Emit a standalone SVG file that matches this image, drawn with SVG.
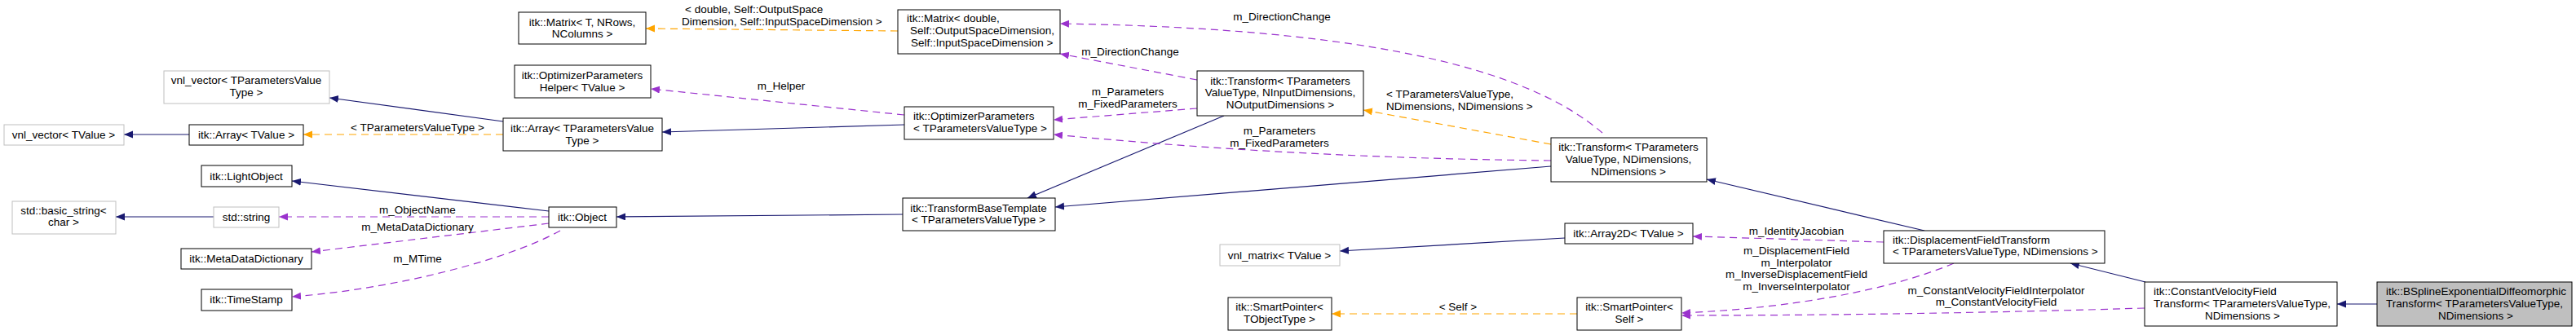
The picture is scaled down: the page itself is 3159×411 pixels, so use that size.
<svg xmlns="http://www.w3.org/2000/svg" width="3159" height="411" viewBox="0 0 3159 411">
<style>
text{font-family:"Liberation Sans",Arial,sans-serif;font-size:13.5px;fill:#000}
.c{text-anchor:middle}
.s{text-anchor:start}
.n rect{fill:#fff;stroke:#000;stroke-width:1}
.g rect{stroke:#bfbfbf}
.e path{fill:none;stroke-width:1.2}
.nv{stroke:#191970;marker-end:url(#an)}
.pu{stroke:#9a32cd;stroke-dasharray:9,6;marker-end:url(#ap)}
.or{stroke:#ffa500;stroke-dasharray:9,6;marker-end:url(#ao)}
</style>
<defs>
<marker id="an" markerUnits="userSpaceOnUse" markerWidth="12" markerHeight="10" refX="11" refY="4.5" orient="auto"><path d="M0,0L11,4.5L0,9z" fill="#191970"/></marker>
<marker id="ap" markerUnits="userSpaceOnUse" markerWidth="12" markerHeight="10" refX="11" refY="4.5" orient="auto"><path d="M0,0L11,4.5L0,9z" fill="#9a32cd"/></marker>
<marker id="ao" markerUnits="userSpaceOnUse" markerWidth="12" markerHeight="10" refX="11" refY="4.5" orient="auto"><path d="M0,0L11,4.5L0,9z" fill="#ffa500"/></marker>
</defs>
<rect width="3159" height="411" fill="#fff"/>
<g id="edges" class="e">
<path class="nv" d="M232,165L152,165"/>
<path class="nv" d="M617,149L404,120"/>
<path class="or" d="M617,165L372,165"/>
<path class="nv" d="M673,259L358,222"/>
<path class="nv" d="M262,266L142,266"/>
<path class="pu" d="M673,266L342,266"/>
<path class="pu" d="M673,274L382,309"/>
<path class="pu" d="M687,283C620,320 480,355 358,364"/>
<path class="nv" d="M1107,263L756,266"/>
<path class="nv" d="M1109,153L812,162"/>
<path class="pu" d="M1109,141L798,109"/>
<path class="or" d="M1101,38L792,35"/>
<path class="pu" d="M1468,98L1300,66"/>
<path class="pu" d="M1468,133L1292,147"/>
<path class="nv" d="M1501,142L1260,243"/>
<path class="pu" d="M1965,163C1880,90 1700,35 1300,29"/>
<path class="pu" d="M1902,197C1700,195 1500,185 1292,165"/>
<path class="nv" d="M1902,204L1294,254"/>
<path class="or" d="M1902,177L1672,135"/>
<path class="nv" d="M1919,292L1643,308"/>
<path class="or" d="M1934,385L1633,385"/>
<path class="nv" d="M2360,283L2093,220"/>
<path class="pu" d="M2310,297L2076,290"/>
<path class="pu" d="M2396,323C2320,355 2200,378 2062,384"/>
<path class="pu" d="M2630,378C2400,385 2200,387 2062,387"/>
<path class="nv" d="M2631,346L2539,323"/>
<path class="nv" d="M2915,373L2866,373"/>
<g style="stroke:none">
<text class="c" x="512" y="161">&lt; TParametersValueType &gt;</text>
<text class="c" x="512" y="262">m_ObjectName</text>
<text class="c" x="512" y="283">m_MetaDataDictionary</text>
<text class="c" x="512" y="322">m_MTime</text>
<text class="c" x="958" y="110">m_Helper</text>
<text class="s" x="840" y="16">&lt; double, Self::OutputSpace</text>
<text class="s" x="836" y="31">Dimension, Self::InputSpaceDimension &gt;</text>
<text class="c" x="1386" y="68">m_DirectionChange</text>
<text class="c" x="1383" y="117">m_Parameters</text>
<text class="c" x="1383" y="132">m_FixedParameters</text>
<text class="c" x="1572" y="25">m_DirectionChange</text>
<text class="c" x="1569" y="165">m_Parameters</text>
<text class="c" x="1569" y="180">m_FixedParameters</text>
<text class="s" x="1700" y="120">&lt; TParametersValueType,</text>
<text class="s" x="1700" y="135">NDimensions, NDimensions &gt;</text>
<text class="c" x="1788" y="381">&lt; Self &gt;</text>
<text class="c" x="2203" y="288">m_IdentityJacobian</text>
<text class="c" x="2203" y="312">m_DisplacementField</text>
<text class="c" x="2203" y="327">m_Interpolator</text>
<text class="c" x="2203" y="341">m_InverseDisplacementField</text>
<text class="c" x="2203" y="356">m_InverseInterpolator</text>
<text class="c" x="2448" y="361">m_ConstantVelocityFieldInterpolator</text>
<text class="c" x="2448" y="375">m_ConstantVelocityField</text>
</g>
</g>
<g id="vnlvecTPVT" class="n g"><rect x="201" y="87" width="203" height="40"/><text class="c" x="302" y="103">vnl_vector&lt; TParametersValue</text><text class="c" x="302" y="118">Type &gt;</text></g>
<g id="vnlvecTV" class="n g"><rect x="5" y="153" width="147" height="25"/><text class="c" x="78" y="170">vnl_vector&lt; TValue &gt;</text></g>
<g id="arrayTV" class="n"><rect x="232" y="153" width="140" height="25"/><text class="c" x="302" y="170">itk::Array&lt; TValue &gt;</text></g>
<g id="lightobj" class="n"><rect x="247" y="203" width="111" height="26"/><text class="c" x="302" y="221">itk::LightObject</text></g>
<g id="basicstring" class="n g"><rect x="15" y="247" width="127" height="40"/><text class="c" x="78" y="263">std::basic_string&lt;</text><text class="c" x="78" y="277">char &gt;</text></g>
<g id="stdstring" class="n g"><rect x="262" y="254" width="80" height="25"/><text class="c" x="302" y="271">std::string</text></g>
<g id="metadata" class="n"><rect x="222" y="305" width="160" height="25"/><text class="c" x="302" y="322">itk::MetaDataDictionary</text></g>
<g id="timestamp" class="n"><rect x="247" y="355" width="111" height="26"/><text class="c" x="302" y="372">itk::TimeStamp</text></g>
<g id="matrixT" class="n"><rect x="636" y="15" width="156" height="39"/><text class="c" x="714" y="32">itk::Matrix&lt; T, NRows,</text><text class="c" x="714" y="46">NColumns &gt;</text></g>
<g id="opthelper" class="n"><rect x="631" y="80" width="167" height="40"/><text class="c" x="714" y="97">itk::OptimizerParameters</text><text class="c" x="714" y="112">Helper&lt; TValue &gt;</text></g>
<g id="arrayTPVT" class="n"><rect x="617" y="145" width="195" height="40"/><text class="c" x="714" y="162">itk::Array&lt; TParametersValue</text><text class="c" x="714" y="177">Type &gt;</text></g>
<g id="object" class="n"><rect x="673" y="254" width="83" height="25"/><text class="c" x="714" y="271">itk::Object</text></g>
<g id="matrixD" class="n"><rect x="1101" y="12" width="199" height="54"/><text class="s" x="1112" y="27">itk::Matrix&lt; double,</text><text class="s" x="1116" y="42">Self::OutputSpaceDimension,</text><text class="s" x="1117" y="57">Self::InputSpaceDimension &gt;</text></g>
<g id="optparams" class="n"><rect x="1109" y="131" width="183" height="40"/><text class="s" x="1120" y="147">itk::OptimizerParameters</text><text class="s" x="1120" y="162">&lt; TParametersValueType &gt;</text></g>
<g id="tbt" class="n"><rect x="1107" y="243" width="187" height="40"/><text class="c" x="1200" y="260">itk::TransformBaseTemplate</text><text class="c" x="1200" y="274">&lt; TParametersValueType &gt;</text></g>
<g id="transformNI" class="n"><rect x="1468" y="87" width="204" height="55"/><text class="c" x="1570" y="104">itk::Transform&lt; TParameters</text><text class="c" x="1570" y="118">ValueType, NInputDimensions,</text><text class="c" x="1570" y="133">NOutputDimensions &gt;</text></g>
<g id="vnlmatrix" class="n g"><rect x="1496" y="300" width="147" height="26"/><text class="c" x="1569" y="318">vnl_matrix&lt; TValue &gt;</text></g>
<g id="spTObj" class="n"><rect x="1506" y="365" width="127" height="40"/><text class="c" x="1569" y="381">itk::SmartPointer&lt;</text><text class="c" x="1569" y="396">TObjectType &gt;</text></g>
<g id="transformND" class="n"><rect x="1902" y="169" width="191" height="54"/><text class="c" x="1997" y="185">itk::Transform&lt; TParameters</text><text class="c" x="1997" y="200">ValueType, NDimensions,</text><text class="c" x="1997" y="215">NDimensions &gt;</text></g>
<g id="array2d" class="n"><rect x="1919" y="274" width="157" height="25"/><text class="c" x="1997" y="291">itk::Array2D&lt; TValue &gt;</text></g>
<g id="spSelf" class="n"><rect x="1934" y="365" width="128" height="40"/><text class="c" x="1998" y="381">itk::SmartPointer&lt;</text><text class="c" x="1998" y="396">Self &gt;</text></g>
<g id="dft" class="n"><rect x="2310" y="283" width="271" height="40"/><text class="s" x="2321" y="299">itk::DisplacementFieldTransform</text><text class="s" x="2321" y="313">&lt; TParametersValueType, NDimensions &gt;</text></g>
<g id="cvft" class="n"><rect x="2630" y="346" width="236" height="54"/><text class="s" x="2641" y="362">itk::ConstantVelocityField</text><text class="s" x="2641" y="377">Transform&lt; TParametersValueType,</text><text class="c" x="2750" y="392">NDimensions &gt;</text></g>
<g id="bspline" class="n"><rect x="2915" y="346" width="239" height="54" style="fill:#bfbfbf"/><text class="s" x="2926" y="362">itk::BSplineExponentialDiffeomorphic</text><text class="s" x="2926" y="377">Transform&lt; TParametersValueType,</text><text class="c" x="3036" y="392">NDimensions &gt;</text></g>
</svg>
